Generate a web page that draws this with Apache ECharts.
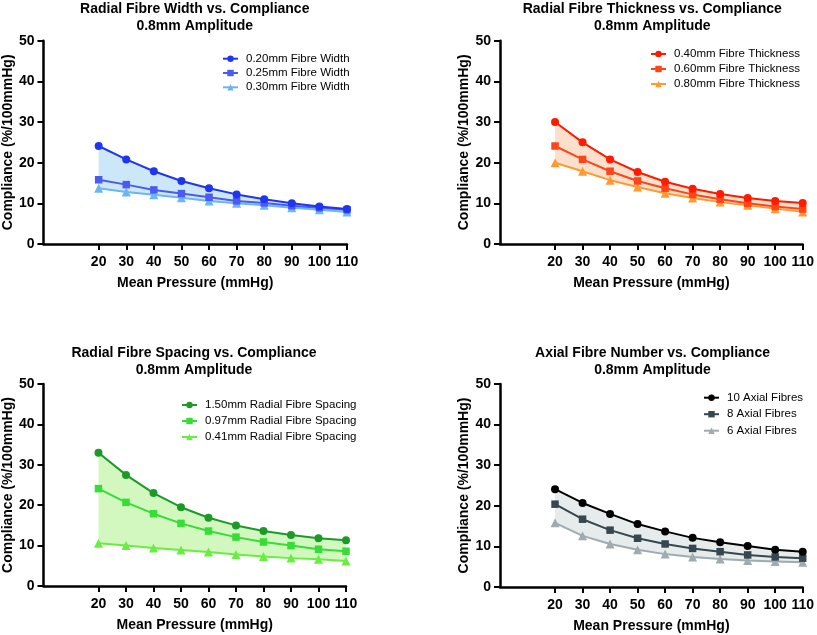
<!DOCTYPE html>
<html>
<head>
<meta charset="utf-8">
<script src="https://cdn.jsdelivr.net/npm/echarts@6/dist/echarts.min.js"></script>
<style>
html,body{margin:0;padding:0;background:#fff;}
#c{width:817px;height:635px;}
</style>
</head>
<body>
<div id="c"></div>
<script>
// ---- Data ----
const pressure = [20, 30, 40, 50, 60, 70, 80, 90, 100, 110];
const xTicks = [20, 30, 40, 50, 60, 70, 80, 90, 100, 110];
const yTicks = [0, 10, 20, 30, 40, 50];

const titles = [
  'Radial Fibre Width vs. Compliance\n0.8mm Amplitude',
  'Radial Fibre Thickness vs. Compliance\n0.8mm Amplitude',
  'Radial Fibre Spacing vs. Compliance\n0.8mm Amplitude',
  'Axial Fibre Number vs. Compliance\n0.8mm Amplitude'
];

// Chart 1: Radial fibre width
const widthNames = ['0.20mm Fibre Width', '0.25mm Fibre Width', '0.30mm Fibre Width'];
const width020 = [24.1, 20.8, 17.9, 15.5, 13.7, 12.2, 11.0, 10.0, 9.2, 8.6];
const width025 = [15.8, 14.6, 13.3, 12.4, 11.5, 10.6, 10.1, 9.4, 8.9, 8.4];
const width030 = [13.7, 12.8, 12.1, 11.4, 10.6, 10.0, 9.5, 8.9, 8.4, 7.9];

// Chart 2: Radial fibre thickness
const thickNames = ['0.40mm Fibre Thickness', '0.60mm Fibre Thickness', '0.80mm Fibre Thickness'];
const thick040 = [30.0, 25.0, 20.8, 17.7, 15.3, 13.6, 12.3, 11.3, 10.6, 10.1];
const thick060 = [24.1, 20.8, 17.9, 15.5, 13.7, 12.2, 11.0, 10.0, 9.2, 8.6];
const thick080 = [20.0, 17.9, 15.7, 14.0, 12.5, 11.3, 10.3, 9.5, 8.7, 7.9];

// Chart 3: Radial fibre spacing
const spaceNames = ['1.50mm Radial Fibre Spacing', '0.97mm Radial Fibre Spacing', '0.41mm Radial Fibre Spacing'];
const space150 = [33.0, 27.5, 23.0, 19.5, 16.9, 15.0, 13.6, 12.6, 11.8, 11.3];
const space097 = [24.1, 20.7, 17.9, 15.5, 13.6, 12.1, 10.9, 10.0, 9.1, 8.6];
const space041 = [10.6, 10.0, 9.4, 8.9, 8.4, 7.8, 7.3, 6.9, 6.6, 6.2];

// Chart 4: Axial fibre number
const axialNames = ['10 Axial Fibres', '8 Axial Fibres', '6 Axial Fibres'];
const axial10 = [24.1, 20.7, 18.0, 15.5, 13.7, 12.1, 11.0, 10.1, 9.2, 8.7];
const axial8 = [20.4, 16.7, 14.0, 12.0, 10.6, 9.5, 8.7, 7.9, 7.4, 7.1];
const axial6 = [15.8, 12.6, 10.6, 9.2, 8.1, 7.4, 6.9, 6.5, 6.3, 6.1];

// ---- Layout / style ----
const FONT = '"Liberation Sans", Arial, Helvetica, sans-serif';
const grids = [
  {left: 42.5, top: 40.7, width: 304.5, height: 203.3},
  {left: 500, top: 40.7, width: 304.5, height: 203.3},
  {left: 42, top: 384, width: 304, height: 202},
  {left: 500, top: 384, width: 305, height: 203}
];
const panels = [
  {names: widthNames, data: [width020, width025, width030],
   colors: ['#1f35f0', '#4a5af2', '#6cb6f0'], fill: '#cce8f8',
   legend: {left: 222, top: 52.7, itemGap: 2.3}},
  {names: thickNames, data: [thick040, thick060, thick080],
   colors: ['#ff1a00', '#ff4418', '#ff9a30'], fill: '#fde0cc',
   legend: {left: 650, top: 48, itemGap: 3}},
  {names: spaceNames, data: [space150, space097, space041],
   colors: ['#1c9a28', '#35dd35', '#66ee40'], fill: '#d2f8c0',
   legend: {left: 181, top: 399, itemGap: 4}},
  {names: axialNames, data: [axial10, axial8, axial6],
   colors: ['#000000', '#37474f', '#a0abb0'], fill: '#e6ebeb',
   legend: {left: 703, top: 391.7, itemGap: 4.5}}
];
const symbols = ['circle', 'rect', 'triangle'];
const symbolSizes = [8, 7.5, 9];

const option = {
  animation: false,
  backgroundColor: '#ffffff',
  title: [], grid: [], xAxis: [], yAxis: [], legend: [], series: []
};

panels.forEach((p, i) => {
  const g = grids[i];
  option.grid.push({left: g.left, top: g.top, width: g.width, height: g.height, containLabel: false});
  option.title.push({
    text: titles[i],
    left: g.left + g.width / 2,
    top: i < 2 ? 0.6 : 344.8,
    padding: [0, 0, 0, 0],
    textAlign: 'center',
    textStyle: {fontFamily: FONT, fontSize: 14, fontWeight: 'bold', color: '#000', lineHeight: 17}
  });
  option.xAxis.push({
    type: 'value', gridIndex: i, min: 0, max: 110, interval: 10,
    name: 'Mean Pressure (mmHg)', nameLocation: 'middle', nameGap: 32,
    nameTextStyle: {fontFamily: FONT, fontSize: 14, fontWeight: 'bold', color: '#000'},
    axisLine: {show: true, onZero: false, lineStyle: {color: '#000', width: 2.5}},
    axisTick: {show: true, customValues: xTicks, length: 6, lineStyle: {color: '#000', width: 2}},
    axisLabel: {customValues: xTicks, margin: 11, fontFamily: FONT, fontSize: 14, fontWeight: 'bold', color: '#000'},
    splitLine: {show: false}
  });
  option.yAxis.push({
    type: 'value', gridIndex: i, min: 0, max: 50, interval: 10,
    name: 'Compliance (%/100mmHg)', nameLocation: 'middle', nameGap: 23, nameRotate: 90,
    nameTextStyle: {fontFamily: FONT, fontSize: 14, fontWeight: 'bold', color: '#000'},
    axisLine: {show: true, onZero: false, lineStyle: {color: '#000', width: 2.5}},
    axisTick: {show: true, length: 6, lineStyle: {color: '#000', width: 2}},
    axisLabel: {customValues: yTicks, margin: 9, fontFamily: FONT, fontSize: 14, fontWeight: 'bold', color: '#000'},
    splitLine: {show: false}
  });
  option.legend.push({
    orient: 'vertical', left: p.legend.left, top: p.legend.top, itemGap: p.legend.itemGap,
    itemWidth: 15, itemHeight: 8, padding: 0,
    data: p.names,
    textStyle: {fontFamily: FONT, fontSize: 11.5, color: '#000', padding: [0, 0, 0, 3]}
  });
  // shaded band between the top and bottom series
  const topVals = p.data[0], botVals = p.data[2], fill = p.fill;
  option.series.push({
    type: 'custom', xAxisIndex: i, yAxisIndex: i, silent: true, z: 1,
    data: pressure.map((x, k) => [x, topVals[k], botVals[k]]),
    encode: {x: 0, y: [1, 2]},
    renderItem: function (params, api) {
      if (params.dataIndex !== 0) return null;
      const pts = [];
      pressure.forEach((x, k) => pts.push(api.coord([x, topVals[k]])));
      for (let k = pressure.length - 1; k >= 0; k--) pts.push(api.coord([pressure[k], botVals[k]]));
      return {type: 'polygon', shape: {points: pts}, style: {fill: fill}};
    }
  });
  // draw lines in reverse so the first series is on top
  for (let s = 2; s >= 0; s--) {
    option.series.push({
      type: 'line', name: p.names[s], xAxisIndex: i, yAxisIndex: i,
      symbol: symbols[s], symbolSize: symbolSizes[s], showAllSymbol: true,
      color: p.colors[s],
      lineStyle: {color: p.colors[s], width: 2},
      itemStyle: {color: p.colors[s]},
      z: 3 + (2 - s),
      data: pressure.map((x, k) => [x, p.data[s][k]])
    });
  }
});

const chart = echarts.init(document.getElementById('c'), null, {renderer: 'canvas'});
chart.setOption(option);
</script>
</body>
</html>
